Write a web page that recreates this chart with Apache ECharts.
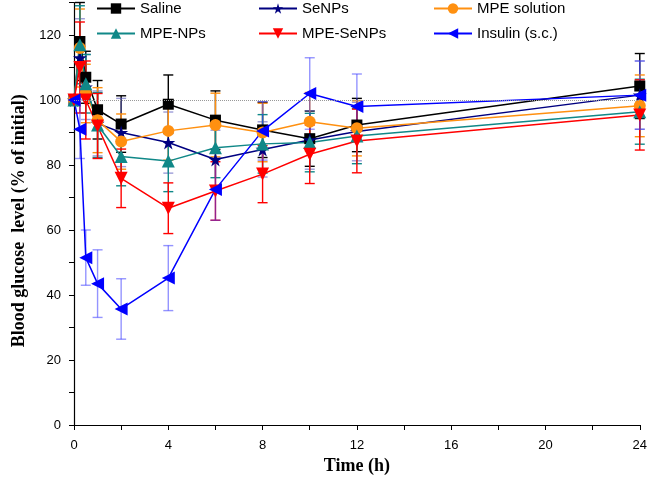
<!DOCTYPE html>
<html>
<head>
<meta charset="utf-8">
<script src="https://cdn.jsdelivr.net/npm/echarts@6/dist/echarts.min.js"></script>
<style>html,body{margin:0;padding:0;background:#fff}#c{width:650px;height:492px}</style>
</head>
<body>
<div id="c"></div>
<script>
const times = [0, 0.25, 0.5, 1, 2, 4, 6, 8, 10, 12, 24];
const xTickLabels = [0, 4, 8, 12, 16, 20, 24];
const yTickLabels = [0, 20, 40, 60, 80, 100, 120];

const saline      = [100, 118, 107, 97, 92.6, 98.7, 93.8, 90.8, 88.1, 92.3, 104.3];
const senps       = [100, 113, 104, 92.8, 90, 86.9, 81.7, 84.8, 87.7, 90.3, 101.5];
const mpeSolution = [100, 116, 102, 93.8, 87.2, 90.5, 92.3, 90, 93.3, 91.3, 98.2];
const mpeNps      = [100, 117, 105, 92.3, 82.6, 81.2, 85.3, 86.5, 86.9, 88.9, 96.4];
const mpeSeNps    = [100, 110, 100, 92, 75.9, 66.7, 72, 77.2, 83.3, 87.4, 95.4];
const insulin     = [100, 91, 51.5, 43.5, 35.7, 45.2, 72.5, 90.5, 102, 98, 101.5];

const salineErr      = [0, 12, 8, 9, 8.7, 9, 9, 8.5, 8.5, 8.2, 10];
const senpsErr       = [0, 12, 10, 10, 10.5, 9.4, 9, 8.5, 9, 9, 10.5];
const mpeSolutionErr = [0, 12, 9, 10, 8.5, 9, 9.8, 9, 9, 8.5, 9.5];
const mpeNpsErr      = [0, 12, 9, 10, 9, 9.4, 9.2, 9, 9, 8.5, 10];
const mpeSeNpsErr    = [0, 14, 12, 10, 9, 7.8, 9, 8.8, 9, 9.8, 10.8];
const insulinErr     = [0, 9, 8.5, 10.4, 9.3, 10, 9.5, 9, 11, 10, 10.5];

const names = ['Saline', 'SeNPs', 'MPE solution', 'MPE-NPs', 'MPE-SeNPs', 'Insulin (s.c.)'];

const STAR = 'path://M50,0 L61,35 L98,35 L68,57 L79,91 L50,70 L21,91 L32,57 L2,35 L39,35 Z';

const defs = [
  {name: names[0], v: saline, e: salineErr, color: '#000000', errColor: '#000000', symbol: 'rect', size: 11, rot: 0},
  {name: names[1], v: senps, e: senpsErr, color: '#000080', errColor: 'rgba(90,90,190,0.6)', symbol: STAR, size: 14, rot: 0},
  {name: names[2], v: mpeSolution, e: mpeSolutionErr, color: '#FF9010', errColor: '#FF9010', symbol: 'circle', size: 12, rot: 0},
  {name: names[3], v: mpeNps, e: mpeNpsErr, color: '#108888', errColor: '#108888', symbol: 'triangle', size: 13, rot: 0},
  {name: names[4], v: mpeSeNps, e: mpeSeNpsErr, color: '#FF0000', errColor: '#FF0000', symbol: 'triangle', size: 13, rot: 180},
  {name: names[5], v: insulin, e: insulinErr, color: '#0000FF', errColor: 'rgba(60,60,255,0.55)', symbol: 'triangle', size: 13, rot: 90}
];

function makeErr(d) {
  return {
    type: 'custom',
    name: d.name + ' err',
    z: 1,
    silent: true,
    encode: {x: 0, y: [1, 2]},
    data: times.map((t, i) => [t, d.v[i] - d.e[i], d.v[i] + d.e[i]]),
    renderItem: function (params, api) {
      const x = api.value(0), lo = api.value(1), hi = api.value(2);
      if (hi - lo <= 0) return null;
      const a = api.coord([x, lo]);
      const b = api.coord([x, hi]);
      const w = 5;
      const st = {stroke: d.errColor, lineWidth: 1.4};
      return {
        type: 'group',
        children: [
          {type: 'line', shape: {x1: a[0], y1: a[1], x2: b[0], y2: b[1]}, style: st},
          {type: 'line', shape: {x1: a[0] - w, y1: a[1], x2: a[0] + w, y2: a[1]}, style: st},
          {type: 'line', shape: {x1: b[0] - w, y1: b[1], x2: b[0] + w, y2: b[1]}, style: st}
        ]
      };
    }
  };
}

function makeLine(d, idx) {
  const s = {
    type: 'line',
    name: d.name,
    z: 3,
    data: times.map((t, i) => [t, d.v[i]]),
    symbol: d.symbol,
    symbolSize: d.size,
    symbolRotate: d.rot,
    showAllSymbol: true,
    lineStyle: {color: d.color, width: 1.5},
    itemStyle: {color: d.color},
    emphasis: {disabled: true},
    animation: false
  };
  if (idx === 0) {
    s.markLine = {
      silent: true,
      symbol: 'none',
      label: {show: false},
      lineStyle: {type: 'dotted', color: '#999999', width: 1},
      data: [{yAxis: 100}]
    };
  }
  return s;
}

const series = [];
defs.forEach(d => series.push(makeErr(d)));
defs.forEach((d, i) => series.push(makeLine(d, i)));

const legendText = {fontFamily: 'Liberation Sans', fontSize: 15, color: '#000'};
function legendAt(left, data) {
  return {
    orient: 'vertical', left: left, top: 1, itemWidth: 38, itemHeight: 13, itemGap: 10,
    textStyle: legendText, data: data, selectedMode: false, padding: 0
  };
}

const chart = echarts.init(document.getElementById('c'), null, {renderer: 'canvas'});
chart.setOption({
  animation: false,
  backgroundColor: '#ffffff',
  grid: {left: 74, right: 9, top: 2.5, bottom: 67, containLabel: false},
  legend: [
    legendAt(96, [names[0], names[3]]),
    legendAt(258, [names[1], names[4]]),
    legendAt(433, [names[2], names[5]])
  ],
  xAxis: {
    type: 'value', min: 0, max: 24, interval: 2,
    name: 'Time (h)', nameLocation: 'middle', nameGap: 32,
    nameTextStyle: {fontFamily: 'Liberation Serif', fontWeight: 'bold', fontSize: 18, color: '#000'},
    axisLine: {show: true, onZero: false, lineStyle: {color: '#000', width: 1.2}},
    axisTick: {show: true, length: 5, lineStyle: {color: '#000'}},
    axisLabel: {
      fontFamily: 'Liberation Sans', fontSize: 13, color: '#000', margin: 14,
      formatter: v => (xTickLabels.indexOf(v) >= 0 ? String(v) : '')
    },
    splitLine: {show: false}
  },
  yAxis: {
    type: 'value', min: 0, max: 130, interval: 10,
    name: 'Blood glucose  level (% of initial)', nameLocation: 'middle', nameGap: 46,
    nameTextStyle: {fontFamily: 'Liberation Serif', fontWeight: 'bold', fontSize: 18, color: '#000', padding: [0, 14, 0, 0]},
    axisLine: {show: true, onZero: false, lineStyle: {color: '#000', width: 1.2}},
    axisTick: {show: true, length: 5, lineStyle: {color: '#000'}},
    axisLabel: {
      fontFamily: 'Liberation Sans', fontSize: 13, color: '#000', margin: 13,
      formatter: v => (yTickLabels.indexOf(v) >= 0 ? String(v) : '')
    },
    splitLine: {show: false}
  },
  series: series
});
</script>
</body>
</html>
